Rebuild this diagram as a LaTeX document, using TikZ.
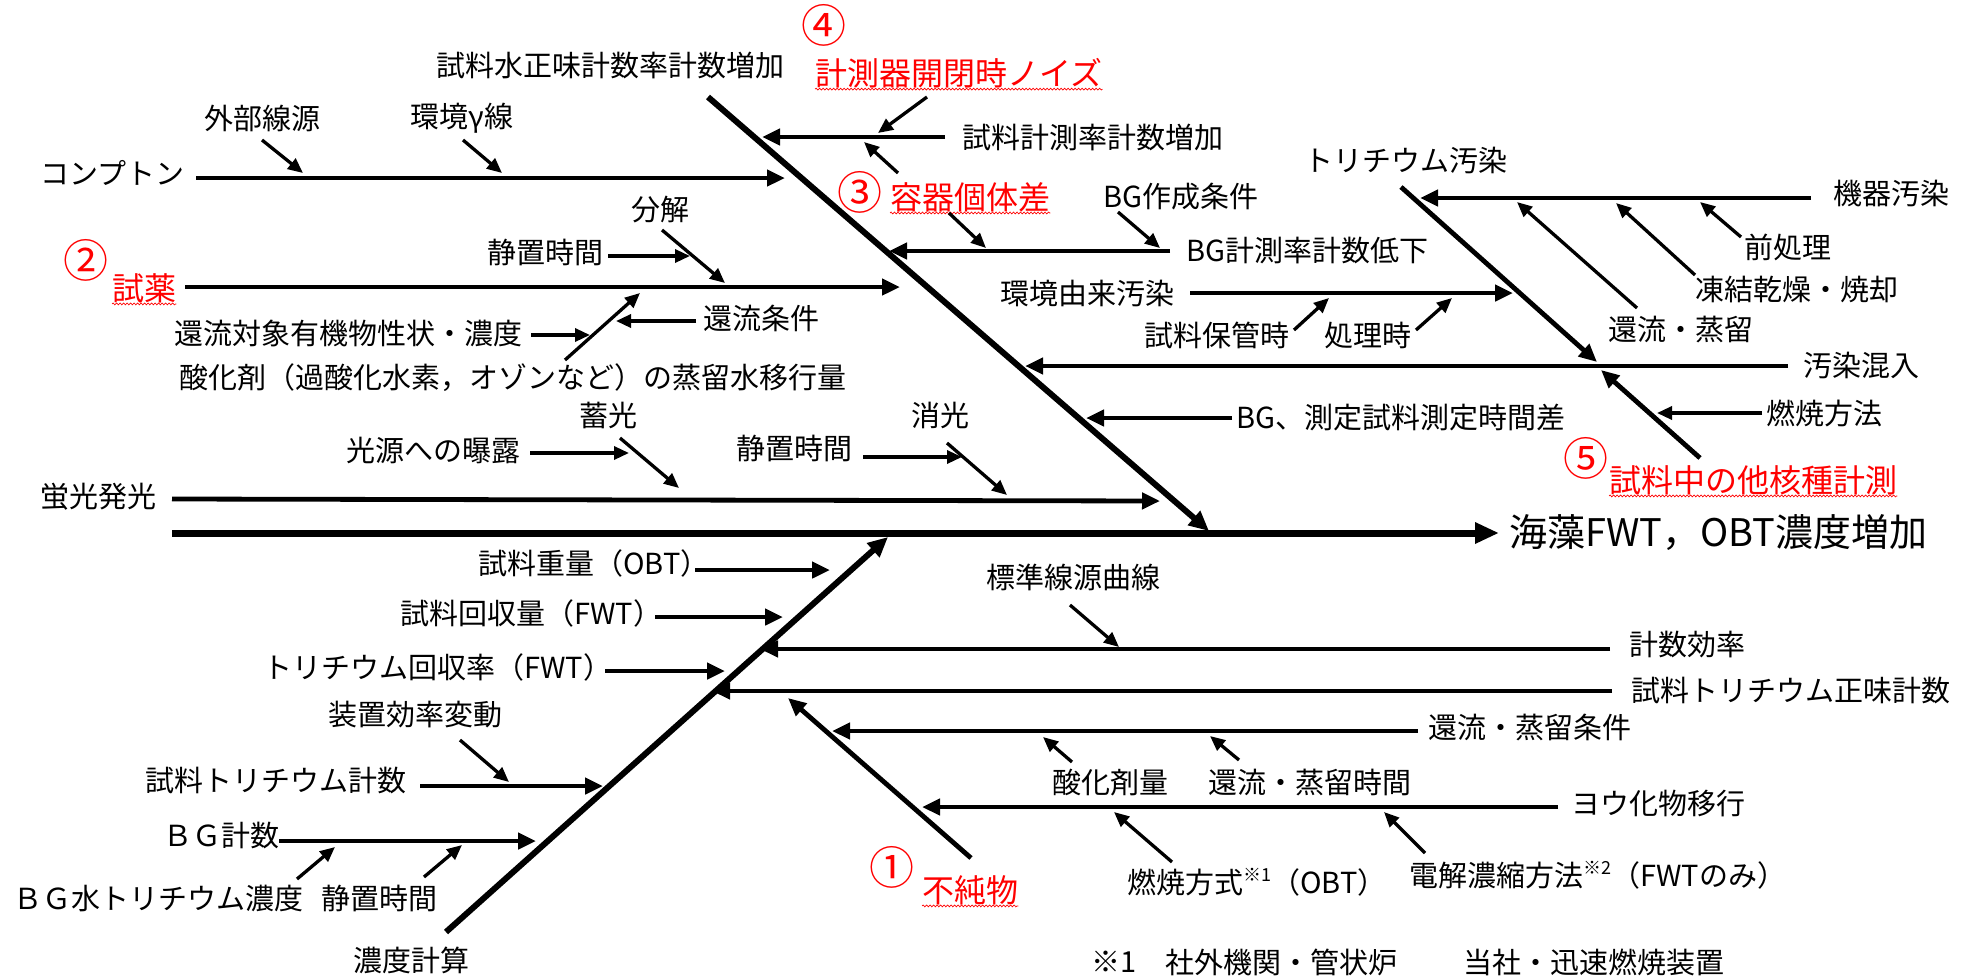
\documentclass[tikz,border=0pt]{standalone}
\usepackage{fontspec}
\setmainfont{Noto Sans CJK JP}
\usetikzlibrary{arrows.meta,decorations.pathmorphing}
\newcommand\myss[1]{\raisebox{0.42em}{\fontsize{18}{18}\selectfont #1}}
\begin{document}
\begin{tikzpicture}[x=1pt,y=-1pt,
  lbl/.style={font=\fontsize{29}{32}\selectfont,inner sep=0pt},
  redl/.style={font=\fontsize{32}{34}\selectfont,text=red,inner sep=0pt},
  circn/.style={font=\fontsize{45}{45}\selectfont,text=red,inner sep=0pt},
  spine/.style={line width=7pt,-{Triangle[length=24pt,width=20pt]}},
  bone/.style={line width=6pt,-{Triangle[length=20pt,width=18pt]}},
  branch/.style={line width=4.8pt,-{Triangle[length=18pt,width=16pt]}},
  twig/.style={line width=3.3pt,-{Triangle[length=15pt,width=13pt]}},
  wavy/.style={red,line width=0.7pt,decorate,decoration={snake,amplitude=0.9pt,segment length=3.5pt}},
]
\useasboundingbox (0,0) rectangle (1974,978);

% ---------------- texts ----------------
\node[lbl,anchor=west] (tSuisei) at (436,65) {試料水正味計数率計数増加};
\node[circn] (c4) at (824,25) {④};
\node[redl,anchor=west] (r4) at (815,73) {計測器開閉時ノイズ};
\node[lbl] (tGaibu) at (262,118) {外部線源};
\node[lbl] (tKankyo) at (462,118) {環境γ線};
\node[lbl,anchor=west] (tComp) at (40,173) {コンプトン};
\node[lbl,anchor=west] (tSokutei) at (962,137) {試料計測率計数増加};
\node[circn] (c3) at (860,192) {③};
\node[redl,anchor=west] (r3) at (890,197) {容器個体差};
\node[lbl] (tBGsak) at (1181,197) {BG作成条件};
\node[lbl,anchor=west] (tBGkei) at (1186,251) {BG計測率計数低下};
\node[lbl] (tBunkai) at (660,210) {分解};
\node[lbl] (tSeichiA) at (545,252) {静置時間};
\node[circn] (c2) at (86,260) {②};
\node[redl,anchor=west] (r2) at (112,288) {試薬};
\node[lbl,anchor=west] (tKanryu) at (703,318) {還流条件};
\node[lbl,anchor=west] (tTaisho) at (174,333) {還流対象有機物性状・濃度};
\node[lbl,anchor=west] (tSanka) at (179,378) {酸化剤（過酸化水素，オゾンなど）の蒸留水移行量};
\node[lbl,anchor=west] (tKyoYurai) at (1000,293) {環境由来汚染};
\node[lbl] (tHokan) at (1217,335) {試料保管時};
\node[lbl] (tShori) at (1368,335) {処理時};
\node[lbl,anchor=west] (tJikan) at (1236,418) {BG、測定試料測定時間差};
\node[lbl] (tChiku) at (608,415) {蓄光};
\node[lbl] (tKogen) at (433,450) {光源への曝露};
\node[lbl] (tShoko) at (940,415) {消光};
\node[lbl] (tSeichiB) at (794,448) {静置時間};
\node[lbl] (tKeiko) at (98,497) {蛍光発光};
\node[lbl] (tTriO) at (1406,160) {トリチウム汚染};
\node[lbl] (tKiki) at (1891,193) {機器汚染};
\node[lbl] (tMae) at (1788,247) {前処理};
\node[lbl] (tToketsu) at (1797,290) {凍結乾燥・焼却};
\node[lbl] (tKanJo) at (1681,330) {還流・蒸留};
\node[lbl,anchor=west] (tOsen) at (1803,365) {汚染混入};
\node[lbl,anchor=west] (tNensho) at (1766,413) {燃焼方法};
\node[circn] (c5) at (1586,458) {⑤};
\node[redl,anchor=west] (r5) at (1609,480) {試料中の他核種計測};
\node[font=\fontsize{38}{40}\selectfont,inner sep=0pt,anchor=west] (title) at (1509,533) {海藻FWT，OBT濃度増加};

\node[lbl,anchor=west] (tJuryo) at (478,563) {試料重量（OBT）};
\node[lbl,anchor=west] (tKaishu) at (400,613) {試料回収量（FWT）};
\node[lbl,anchor=west] (tKaishuR) at (263,667) {トリチウム回収率（FWT）};
\node[lbl] (tSochi) at (415,715) {装置効率変動};
\node[lbl,anchor=west] (tSTcount) at (145,780) {試料トリチウム計数};
\node[lbl,anchor=west] (tBGcount) at (163,835) {ＢＧ計数};
\node[lbl,anchor=west] (tBGwater) at (13,898) {ＢＧ水トリチウム濃度};
\node[lbl] (tSeichiC) at (379,898) {静置時間};
\node[lbl] (tNodo) at (411,960) {濃度計算};
\node[lbl] (tHyojun) at (1073,577) {標準線源曲線};
\node[lbl,anchor=west] (tKoritsu) at (1629,645) {計数効率};
\node[lbl,anchor=west] (tShomi) at (1631,690) {試料トリチウム正味計数};
\node[lbl,anchor=west] (tJoryuJoken) at (1428,727) {還流・蒸留条件};
\node[lbl] (tSankaRyo) at (1110,783) {酸化剤量};
\node[lbl,anchor=west] (tJoryuJikan) at (1208,783) {還流・蒸留時間};
\node[lbl,anchor=west] (tYouka) at (1571,803) {ヨウ化物移行};
\node[circn] (c1) at (892,867) {①};
\node[redl,anchor=west] (r1) at (922,890) {不純物};
\node[lbl,anchor=west] (tNenshoH) at (1127,882) {燃焼方式\myss{※1}（OBT）};
\node[lbl,anchor=west] (tDenkai) at (1409,875) {電解濃縮方法\myss{※2}（FWTのみ）};
\node[lbl,anchor=west] (tNoteA) at (1091,962) {※1};
\node[lbl,anchor=west] (tNoteB) at (1165,962) {社外機関・管状炉};
\node[lbl,anchor=west] (tNoteC) at (1463,962) {当社・迅速燃焼装置};

% red wavy underlines
\foreach \n in {r1,r2,r3,r4,r5}
  \draw[wavy] ([yshift=-1pt]\n.south west) -- ([yshift=-1pt]\n.south east);

% ---------------- coordinates ----------------
\coordinate (spS) at (172,533);   \coordinate (spE) at (1499,533);
\coordinate (ubS) at (708,97);    \coordinate (ubE) at (1209,531);
\coordinate (lbS) at (446,932);   \coordinate (lbE) at (888,537);
\coordinate (sbS) at (1401,187);  \coordinate (sbE) at (1597,362);
\coordinate (fvS) at (1700,458);  \coordinate (fvE) at (1601,370);
\coordinate (onS) at (971,858);   \coordinate (onE) at (788,698);
\coordinate (tvS) at (565,360);   \coordinate (tvE) at (640,293);

\coordinate (bComS) at (196,178);  \coordinate (bComE) at (785,178);
\coordinate (bSokS) at (945,137);  \coordinate (bSokE) at (762,137);
\coordinate (bShiS) at (185,287);  \coordinate (bShiE) at (900,287);
\coordinate (bBGkS) at (1170,251); \coordinate (bBGkE) at (889,251);
\coordinate (bKyoS) at (1190,293); \coordinate (bKyoE) at (1513,293);
\coordinate (bOseS) at (1788,366); \coordinate (bOseE) at (1025,366);
\coordinate (bJikS) at (1232,418); \coordinate (bJikE) at (1086,418);
\coordinate (bKeiS) at (172,499);  \coordinate (bKeiE) at (1160,501);
\coordinate (bKikS) at (1811,198); \coordinate (bKikE) at (1420,198);
\coordinate (bJuS) at (695,570);   \coordinate (bJuE) at (830,570);
\coordinate (bKaS) at (655,617);   \coordinate (bKaE) at (783,617);
\coordinate (bKrS) at (605,671);   \coordinate (bKrE) at (725,671);
\coordinate (bKoS) at (1610,649);  \coordinate (bKoE) at (760,649);
\coordinate (bShmS) at (1612,691); \coordinate (bShmE) at (712,691);
\coordinate (bJoS) at (1418,731);  \coordinate (bJoE) at (832,731);
\coordinate (bYoS) at (1558,807);  \coordinate (bYoE) at (922,807);
\coordinate (bStS) at (420,786);   \coordinate (bStE) at (603,786);
\coordinate (bBGS) at (279,841);   \coordinate (bBGE) at (536,841);

\coordinate (wGaS) at (262,140);   \coordinate (wGaE) at (303,173);
\coordinate (wKaS) at (463,140);   \coordinate (wKaE) at (502,173);
\coordinate (wNoS) at (927,97);    \coordinate (wNoE) at (878,133);
\coordinate (wYoS) at (898,173);   \coordinate (wYoE) at (864,142);
\coordinate (wYdS) at (949,213);   \coordinate (wYdE) at (986,248);
\coordinate (wBsS) at (1118,212);  \coordinate (wBsE) at (1160,248);
\coordinate (wSaS) at (608,256);   \coordinate (wSaE) at (690,256);
\coordinate (wBuS) at (662,230);   \coordinate (wBuE) at (725,283);
\coordinate (wNdS) at (531,335);   \coordinate (wNdE) at (590,335);
\coordinate (wKjS) at (696,321);   \coordinate (wKjE) at (616,321);
\coordinate (wHoS) at (1294,330);  \coordinate (wHoE) at (1329,298);
\coordinate (wShS) at (1416,330);  \coordinate (wShE) at (1452,298);
\coordinate (wKgS) at (530,453);   \coordinate (wKgE) at (629,453);
\coordinate (wChS) at (620,438);   \coordinate (wChE) at (679,488);
\coordinate (wSbS) at (863,457);   \coordinate (wSbE) at (962,457);
\coordinate (wSkS) at (947,443);   \coordinate (wSkE) at (1007,495);
\coordinate (wMaS) at (1741,237);  \coordinate (wMaE) at (1700,202);
\coordinate (wToS) at (1695,275);  \coordinate (wToE) at (1616,203);
\coordinate (wKrS) at (1637,308);  \coordinate (wKrE) at (1517,202);
\coordinate (wNhS) at (1762,413);  \coordinate (wNhE) at (1657,413);
\coordinate (wHyS) at (1070,605);  \coordinate (wHyE) at (1119,647);
\coordinate (wSrS) at (1072,762);  \coordinate (wSrE) at (1043,737);
\coordinate (wJjS) at (1239,760);  \coordinate (wJjE) at (1210,736);
\coordinate (wNsS) at (1172,862);  \coordinate (wNsE) at (1114,812);
\coordinate (wDkS) at (1425,853);  \coordinate (wDkE) at (1384,812);
\coordinate (wSoS) at (460,740);   \coordinate (wSoE) at (509,782);
\coordinate (wBwS) at (297,879);   \coordinate (wBwE) at (335,847);
\coordinate (wScS) at (424,877);   \coordinate (wScE) at (462,845);

% ---------------- connectors ----------------
\draw[spine] (spS) -- (spE);
\draw[bone] (ubS) -- (ubE);
\draw[bone] (lbS) -- (lbE);
\draw[branch] (sbS) -- (sbE);
\draw[branch] (fvS) -- (fvE);
\draw[branch] (onS) -- (onE);

\foreach \a in {bCom,bSok,bShi,bBGk,bKyo,bOse,bJik,bKei,bKik,bJu,bKa,bKr,bKo,bShm,bJo,bYo,bSt,bBG}
  \draw[branch] (\a S) -- (\a E);

\draw[twig] (tvS) -- (tvE);
\foreach \a in {wGa,wKa,wNo,wYo,wYd,wBs,wSa,wBu,wNd,wKj,wHo,wSh,wKg,wCh,wSb,wSk,wMa,wTo,wKr,wNh,wHy,wSr,wJj,wNs,wDk,wSo,wBw,wSc}
  \draw[twig] (\a S) -- (\a E);
\end{tikzpicture}
\end{document}
